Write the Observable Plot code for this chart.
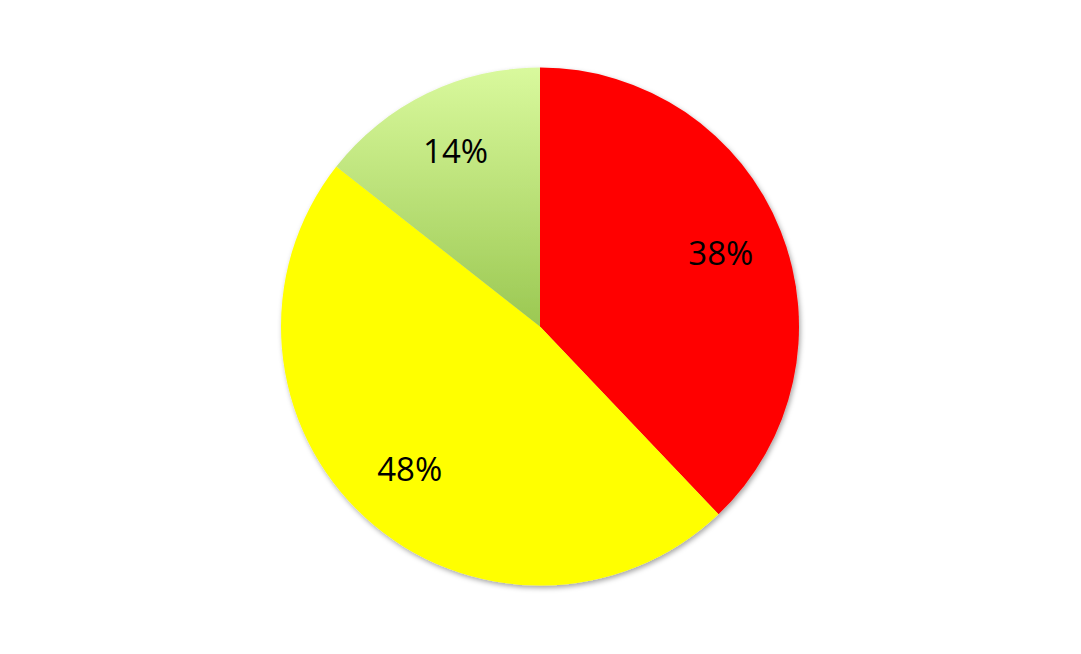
<!DOCTYPE html>
<html><head><meta charset="utf-8">
<script src="https://cdn.jsdelivr.net/npm/d3@7"></script>
<script src="https://cdn.jsdelivr.net/npm/@observablehq/plot@0.6"></script>
<style>body{margin:0;background:#fff;overflow:hidden;}</style>
</head><body><div id="chart"></div>
<script>
// Data (clockwise from 12 o'clock)
const categories = ["Red", "Yellow", "Green"];
const values = [37.9, 47.7, 14.4];
const labels = ["38%", "48%", "14%"];
const colors = ["#ff0000", "#ffff00", "url(#greenGrad)"];

const rows = categories.map((c, i) => ({category: c, value: values[i], label: labels[i], color: colors[i]}));
const arcs = d3.pie().sort(null).value(d => d.value)(rows);
const labelR = 0.75;
const labelData = arcs.map(p => {
  const a = (p.startAngle + p.endAngle) / 2;
  return {label: p.data.label, x: labelR * Math.sin(a), y: labelR * Math.cos(a)};
});

function slices(index, scales) {
  const ns = "http://www.w3.org/2000/svg";
  const g = document.createElementNS(ns, "g");
  const cx = scales.x(0), cy = scales.y(0);
  const R = scales.x(1) - scales.x(0);
  g.innerHTML = `<defs>
    <linearGradient id="greenGrad" x1="0" y1="0" x2="0" y2="1">
      <stop offset="0" stop-color="#d9f99d"/>
      <stop offset="1" stop-color="#9bc852"/>
    </linearGradient>
    <filter id="shadow" x="-10%" y="-10%" width="120%" height="120%">
      <feDropShadow dx="1.5" dy="2.5" stdDeviation="2.5" flood-color="#000" flood-opacity="0.35"/>
    </filter></defs>`;
  const gg = document.createElementNS(ns, "g");
  gg.setAttribute("transform", `translate(${cx},${cy})`);
  gg.setAttribute("filter", "url(#shadow)");
  const arc = d3.arc().innerRadius(0).outerRadius(R);
  for (const p of arcs) {
    const path = document.createElementNS(ns, "path");
    path.setAttribute("d", arc(p));
    path.setAttribute("fill", p.data.color);
    gg.appendChild(path);
  }
  g.appendChild(gg);
  return g;
}

const chart = Plot.plot({
  width: 1081,
  height: 654,
  marginLeft: 281,
  marginRight: 282,
  marginTop: 67.5,
  marginBottom: 68.5,
  x: {domain: [-1, 1], axis: null},
  y: {domain: [-1, 1], axis: null},
  style: {fontFamily: "'Open Sans', sans-serif", background: "#fff"},
  marks: [
    slices,
    Plot.text(labelData, {x: "x", y: "y", text: "label", fontSize: 33, fill: "#000"})
  ]
});
document.getElementById("chart").appendChild(chart);
</script>
</body></html>
